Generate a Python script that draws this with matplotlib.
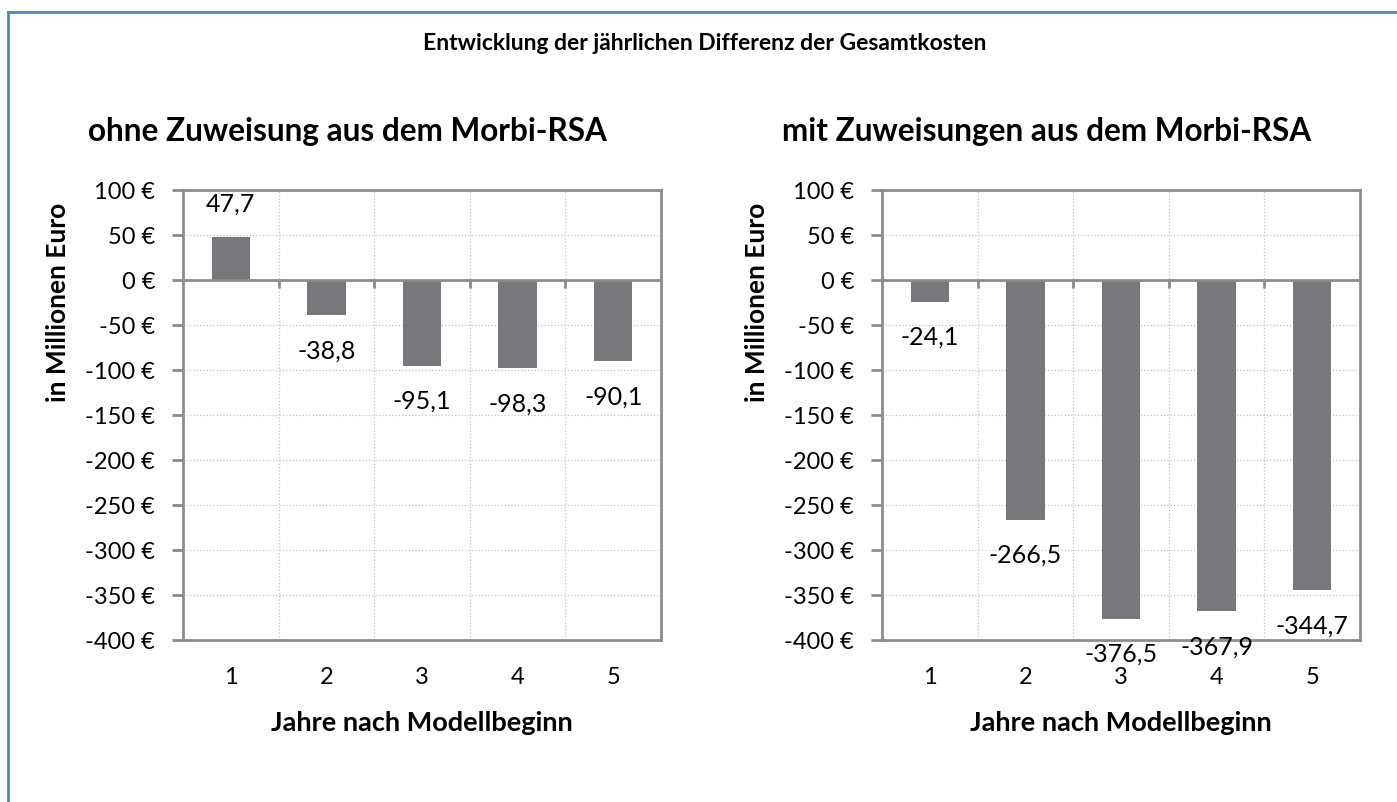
import numpy as np
import matplotlib
matplotlib.use("Agg")
import matplotlib.pyplot as plt
from matplotlib.ticker import FuncFormatter
from matplotlib.lines import Line2D

plt.rcParams["font.family"] = ["Lato", "DejaVu Sans"]

# ─── Data ─────────────────────────────────────────────────────────────────────
years = [1, 2, 3, 4, 5]
ohne_zuweisung = [47.7, -38.8, -95.1, -98.3, -90.1]
mit_zuweisung = [-24.1, -266.5, -376.5, -367.9, -344.7]

main_title = "Entwicklung der jährlichen Differenz der Gesamtkosten"
panel_titles = ["ohne Zuweisung aus dem Morbi-RSA", "mit Zuweisungen aus dem Morbi-RSA"]
y_ticks = list(range(-400, 101, 50))

BAR = "#77787c"
AXIS = "#8c8c8c"
GRID = "#c4c4c4"

W, H = 1397, 803
fig = plt.figure(figsize=(W / 100, H / 100), dpi=100)

# blue frame (top + left only, as in the source)
fig.add_artist(Line2D([8 / W, 1], [1 - 13 / H, 1 - 13 / H], color="#4a86c5", lw=2))
fig.add_artist(Line2D([8 / W, 8 / W], [0, 1 - 13 / H], color="#4a86c5", lw=2))

fig.text(705 / W, 1 - 43 / H, main_title, ha="center", va="center",
         fontsize=16.5, fontweight="bold")

ax_left = [183, 882]
ax_width = 478
ax_top, ax_bot = 191, 641
title_x = [88, 782]

for i, values in enumerate([ohne_zuweisung, mit_zuweisung]):
    ax = fig.add_axes([ax_left[i] / W, 1 - ax_bot / H, ax_width / W, (ax_bot - ax_top) / H])
    x = np.array(years)
    ax.bar(x, values, width=0.4, color=BAR, zorder=3)
    ax.set_xlim(0.5, 5.5)
    ax.set_ylim(-400, 100)

    for xi, v in zip(x, values):
        ax.annotate(f"{v:.1f}".replace(".", ","), (xi, v),
                    textcoords="offset points", xytext=(0, 24.5 if v > 0 else -25),
                    ha="center", va="center", fontsize=18, annotation_clip=False, zorder=4)

    ax.set_yticks(y_ticks)
    ax.yaxis.set_major_formatter(FuncFormatter(lambda v, p: f"{int(v)} €"))
    ax.set_xticks(years)
    ax.set_xticks(np.arange(1.5, 5.5, 1), minor=True)
    ax.tick_params(axis="x", which="both", length=0, labelsize=17, pad=19)
    ax.tick_params(axis="y", length=8, width=2, color=AXIS, labelsize=17, pad=12)
    ax.grid(axis="y", which="major", color=GRID, linestyle=":", lw=0.9, zorder=0)
    ax.grid(axis="x", which="minor", color=GRID, linestyle=":", lw=0.9, zorder=0)
    for s in ax.spines.values():
        s.set_color(AXIS)
        s.set_linewidth(2)

    # zero line with category separator ticks
    ax.axhline(0, color=AXIS, lw=2, zorder=4)
    zero_frac = (0 - ax.get_ylim()[0]) / (ax.get_ylim()[1] - ax.get_ylim()[0])
    ax.vlines(np.arange(1.5, 5.5, 1), zero_frac - 8 / (ax_bot - ax_top), zero_frac,
              transform=ax.get_xaxis_transform(), color=AXIS, lw=2, zorder=4)

    ax.set_xlabel("Jahre nach Modellbeginn", fontsize=19.5, fontweight="bold", labelpad=16)

    fig.text(title_x[i] / W, 1 - 131 / H, panel_titles[i], ha="left", va="center",
             fontsize=22.7, fontweight="bold")
    fig.text((ax_left[i] - 125) / W, 1 - 302 / H, "in Millionen Euro", rotation=90,
             ha="center", va="center", fontsize=19, fontweight="bold")

fig.savefig("out.png", dpi=100)
